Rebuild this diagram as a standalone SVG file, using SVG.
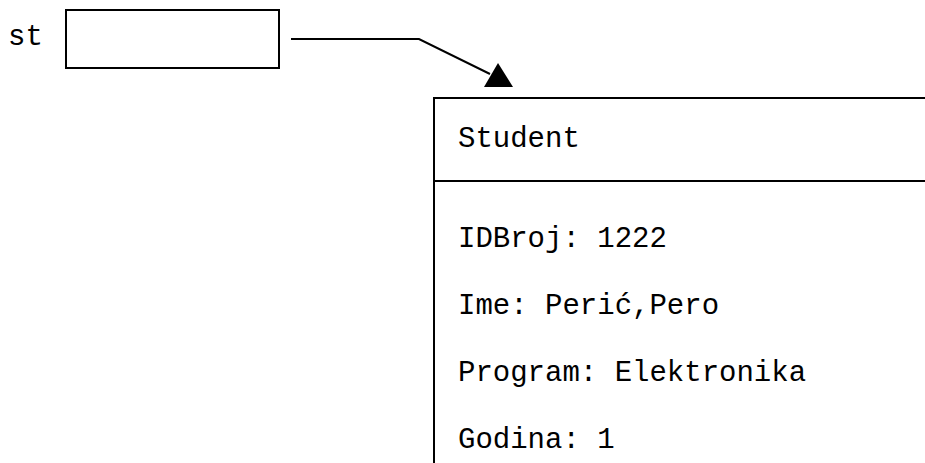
<svg xmlns="http://www.w3.org/2000/svg" width="925" height="463" viewBox="0 0 925 463">
<style>
.t{font-family:"Liberation Mono","Courier New",monospace;font-size:29px;fill:#000}
.b{fill:#fff;stroke:#000;stroke-width:2}
</style>
<rect width="925" height="463" fill="#fff"/>
<g id="var-st">
<text class="t" x="8" y="45">st</text>
<rect class="b" x="66" y="10" width="213" height="58"/>
</g>
<g id="student">
<rect class="b" x="434" y="98" width="520" height="400"/>
<line x1="434" y1="181" x2="925" y2="181" stroke="#000" stroke-width="2"/>
<text class="t" x="458" y="147">Student</text>
<text class="t" x="458" y="247">IDBroj: 1222</text>
<text class="t" x="458" y="314">Ime: Perić,Pero</text>
<text class="t" x="458" y="381">Program: Elektronika</text>
<text class="t" x="458" y="448">Godina: 1</text>
</g>
<g id="connectors">
<polyline points="291,39 419,39 490,74" fill="none" stroke="#000" stroke-width="2"/>
<polygon points="498,63 484,87 513,87" fill="#000"/>
</g>
</svg>
